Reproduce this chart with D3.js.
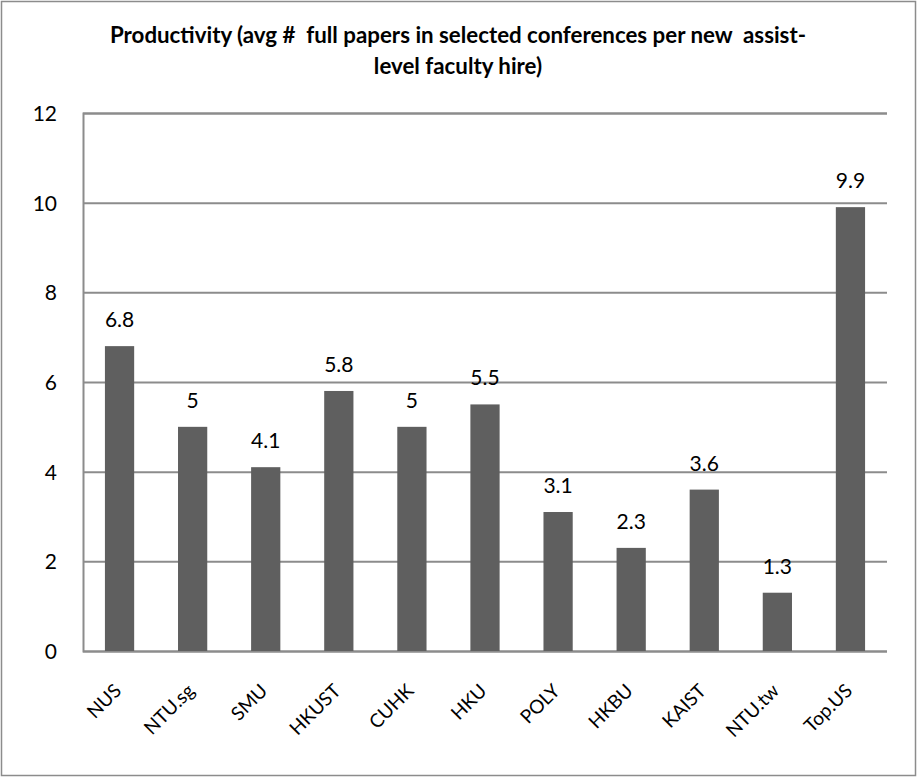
<!DOCTYPE html>
<html>
<head>
<meta charset="UTF-8" />
<title>Productivity</title>
<script src="https://cdn.jsdelivr.net/npm/d3@7"></script>
<style>
  body { margin: 0; background: #fff; }
  text { font-family: Lato, "Open Sans", sans-serif; fill: #000; }
</style>
</head>
<body>
<svg id="vis" width="917" height="777"></svg>
<script>
  // data
  const schools = ["NUS", "NTU.sg", "SMU", "HKUST", "CUHK", "HKU", "POLY", "HKBU", "KAIST", "NTU.tw", "Top.US"];
  const papers = [6.8, 5, 4.1, 5.8, 5, 5.5, 3.1, 2.3, 3.6, 1.3, 9.9];
  const yTicks = [0, 2, 4, 6, 8, 10, 12];
  const titleLines = ["Productivity (avg #  full papers in selected conferences per new  assist-", "level faculty hire)"];

  const svg = d3.select("#vis");

  // outer frame
  svg.append("rect")
    .attr("x", 1.5).attr("y", 1.5)
    .attr("width", 914).attr("height", 774)
    .attr("fill", "#fff").attr("stroke", "#8c8c8c").attr("stroke-width", 1.5);

  const plotL = 83, plotR = 887, plotT = 113, plotB = 651;

  const x = d3.scaleBand().domain(schools).range([plotL, plotR]).paddingInner(0.6).paddingOuter(0.3);
  const y = d3.scaleLinear().domain([0, 12]).range([plotB, plotT]);

  // title (keep the double spaces)
  svg.append("text")
    .attr("x", 458).attr("y", 43)
    .attr("text-anchor", "middle")
    .style("font-weight", "bold").style("font-size", "22.3px")
    .style("white-space", "pre")
    .selectAll("tspan").data(titleLines).join("tspan")
    .attr("x", 458).attr("dy", (d, i) => i ? 31 : 0)
    .text(d => d);

  // gridlines
  const yAxis = d3.axisLeft(y).tickValues(yTicks).tickSize(-(plotR - plotL)).tickPadding(26);
  const gy = svg.append("g").attr("transform", `translate(${plotL},0)`).call(yAxis);
  gy.select(".domain").attr("stroke", "#8c8c8c").attr("stroke-width", 2);
  gy.selectAll(".tick line").attr("stroke", "#8c8c8c").attr("stroke-width", 2);
  gy.selectAll(".tick text").style("font-size", "21px").attr("fill", "#000").attr("dy", "0.36em");

  // bars
  svg.append("g").selectAll("rect").data(schools).join("rect")
    .attr("x", d => x(d))
    .attr("width", x.bandwidth())
    .attr("y", (d, i) => y(papers[i]))
    .attr("height", (d, i) => y(0) - y(papers[i]))
    .attr("fill", "#5f5f5f");

  // value labels
  svg.append("g").selectAll("text").data(schools).join("text")
    .attr("x", d => x(d) + x.bandwidth() / 2)
    .attr("y", (d, i) => y(papers[i]) - 19)
    .attr("text-anchor", "middle")
    .style("font-size", "21px")
    .text((d, i) => papers[i]);

  // x axis labels, rotated
  const xAxis = d3.axisBottom(x).tickSize(0).tickPadding(0);
  const gx = svg.append("g").attr("transform", `translate(0,${plotB})`).call(xAxis);
  gx.select(".domain").remove();
  gx.selectAll(".tick text")
    .style("font-size", "19px").attr("fill", "#000")
    .attr("text-anchor", "end")
    .attr("dy", 0)
    .attr("transform", "translate(3,41) rotate(-45)");
</script>
</body>
</html>
